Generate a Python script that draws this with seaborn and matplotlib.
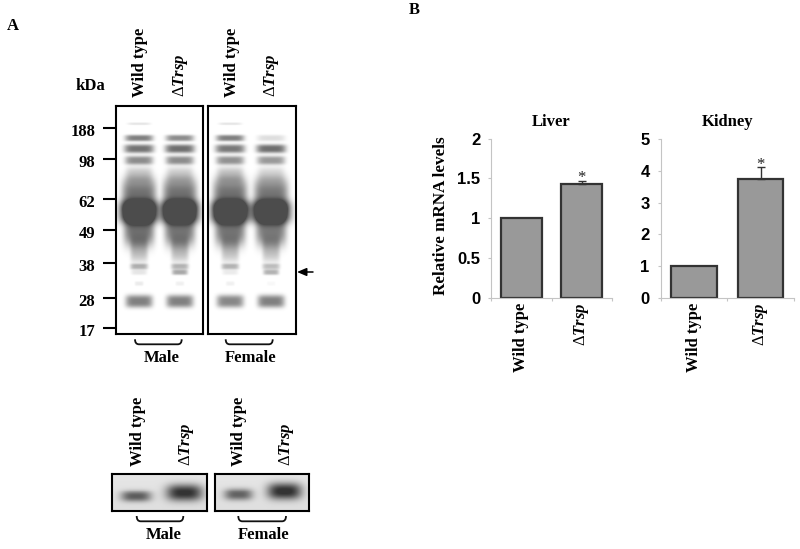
import numpy as np
import pandas as pd
import matplotlib
matplotlib.use("Agg")
import matplotlib.pyplot as plt
from matplotlib.path import Path
from matplotlib.patches import PathPatch
import seaborn as sns

# bar data (panel B)
genotypes = ["Wild type", "Trsp"]
liver_values = [1.0, 1.43]
liver_err = [0.0, 0.04]
kidney_values = [1.0, 3.75]
kidney_err = [0.0, 0.38]
liver_ticks = [0, 0.5, 1, 1.5, 2]
liver_ticklabels = ["0", "0.5", "1", "1.5", "2"]
kidney_ticks = [0, 1, 2, 3, 4, 5]

# gel lanes: migration (0 top, 1 bottom), half width, half height, darkness
band_pos = [0.076, 0.139, 0.186, 0.237, 0.30, 0.395, 0.465, 0.535, 0.63, 0.705, 0.73, 0.78, 0.858]
band_hw = [0.13, 0.16, 0.17, 0.16, 0.15, 0.195, 0.235, 0.175, 0.10, 0.10, 0.09, 0.05, 0.155]
band_hh = [0.006, 0.014, 0.019, 0.019, 0.036, 0.08, 0.05, 0.08, 0.055, 0.013, 0.012, 0.010, 0.028]
male_wt = [0.10, 0.50, 0.55, 0.45, 0.18, 0.56, 0.70, 0.56, 0.25, 0.30, 0.10, 0.08, 0.50]
male_ko = [0.00, 0.45, 0.57, 0.45, 0.16, 0.56, 0.70, 0.54, 0.25, 0.28, 0.34, 0.06, 0.50]
female_wt = [0.10, 0.50, 0.53, 0.43, 0.20, 0.56, 0.70, 0.54, 0.23, 0.28, 0.08, 0.06, 0.47]
female_ko = [0.00, 0.13, 0.57, 0.40, 0.13, 0.54, 0.70, 0.52, 0.23, 0.24, 0.30, 0.03, 0.50]

# western blot bands: lane centre, migration, half width, half height, darkness
blot_male = [(0.25, 0.60, 0.16, 0.15, 0.52), (0.76, 0.50, 0.19, 0.23, 0.70)]
blot_female = [(0.25, 0.55, 0.15, 0.16, 0.50), (0.74, 0.46, 0.18, 0.23, 0.72)]

kda_labels = ["188", "98", "62", "49", "38", "28", "17"]
kda_rows = [128.3, 159.3, 199, 230, 263.3, 297.7, 327.7]

DELTA_TRSP = r"$\mathrm{\Delta}\mathbfit{Trsp}$"

sns.set_theme(style="white")
plt.rcParams["font.family"] = ["Liberation Serif", "DejaVu Sans"]
plt.rcParams["mathtext.fontset"] = "custom"
plt.rcParams["mathtext.rm"] = "Liberation Serif"
plt.rcParams["mathtext.it"] = "Liberation Serif:italic"
plt.rcParams["mathtext.bf"] = "Liberation Serif:bold"
plt.rcParams["mathtext.bfit"] = "Liberation Serif:italic:bold"
plt.rcParams["text.color"] = "black"
plt.rcParams["xtick.color"] = "black"
plt.rcParams["ytick.color"] = "black"

W, H = 800, 549
fig = plt.figure(figsize=(8, 5.49), dpi=100)


def px_axes(x0, y0, x1, y1):
    return fig.add_axes([x0 / W, 1 - y1 / H, (x1 - x0) / W, (y1 - y0) / H])


def gel_image(lanes, lane_x, rows=228, cols=88):
    y, x = np.mgrid[0:1:rows * 1j, 0:1:cols * 1j]
    dark = np.zeros_like(x)
    for cx, lane in zip(lane_x, lanes):
        for m, hw, hh, d in zip(band_pos, band_hw, band_hh, lane):
            dark += d * np.exp(-np.abs((x - cx) / hw) ** 5) * np.exp(-np.abs((y - m) / hh) ** 3)
    return np.clip(dark, 0, 0.70)


def blot_image(bands, rows=37, cols=95):
    y, x = np.mgrid[0:1:rows * 3j, 0:1:cols * 3j]
    dark = 0.10 + 0.03 * y
    for cx, m, hw, hh, d in bands:
        dark = dark + d * np.exp(-np.abs((x - cx) / hw) ** 3.2) * np.exp(-np.abs((y - m) / hh) ** 2.4)
    return np.clip(dark, 0, 0.8)


def draw_image(box, img):
    ax = px_axes(*box)
    sns.heatmap(pd.DataFrame(img), cmap="gray_r", vmin=0, vmax=1, cbar=False,
                xticklabels=False, yticklabels=False, ax=ax, rasterized=True)
    for s in ax.spines.values():
        s.set_visible(True)
        s.set_color("black")
        s.set_linewidth(1.5)
    return ax


draw_image((115.7, 106, 203.3, 334), gel_image([male_wt, male_ko], [0.26, 0.74]))
draw_image((208.3, 106, 296.3, 334), gel_image([female_wt, female_ko], [0.25, 0.72]))
draw_image((112.3, 474.3, 207.3, 511), blot_image(blot_male))
draw_image((214.7, 474.3, 309.3, 511), blot_image(blot_female))


def bar_panel(box, values, err, ymax, ticks, ticklabels, title, star_pad):
    ax = px_axes(*box)
    df = pd.DataFrame({"genotype": genotypes, "value": values})
    sns.barplot(data=df, x="genotype", y="value", color="#999999", saturation=1,
                width=0.68, edgecolor="#333333", linewidth=1.6, errorbar=None, ax=ax)
    ax.errorbar([1], [values[1]], yerr=[[0], [err[1]]], color="#333333",
                elinewidth=1, capsize=3, capthick=1)
    ax.annotate("*", xy=(1, values[1] + err[1]), xytext=(0, star_pad), textcoords="offset points",
                ha="center", va="center", fontsize=12, color="#222222")
    ax.set_xlim(-0.5, 1.5)
    ax.set_ylim(0, ymax)
    ax.set_xlabel("")
    ax.set_ylabel("")
    ax.set_xticks([0, 1])
    ax.set_xticklabels(["Wild type", DELTA_TRSP], rotation=90, fontsize=12, fontweight="bold")
    ax.set_xticks([-0.5, 0.5, 1.5], minor=True)
    ax.tick_params(axis="x", which="major", length=0, pad=3.5)
    ax.tick_params(axis="x", which="minor", length=2.4, width=0.8, color="#c4c4c4", bottom=True)
    ax.set_yticks(ticks)
    ax.set_yticklabels(ticklabels, family="Liberation Sans", fontweight="bold", fontsize=12)
    ax.tick_params(axis="y", length=2.4, width=0.8, color="#c4c4c4", pad=5.5, left=True)
    sns.despine(ax=ax)
    for s in ("left", "bottom"):
        ax.spines[s].set_color("#c4c4c4")
        ax.spines[s].set_linewidth(0.8)
    ax.patch.set_alpha(0)
    ax.set_title(title, fontsize=12, fontweight="bold", pad=9.5)
    return ax


bar_panel((491.3, 138.7, 611.7, 297.7), liver_values, liver_err, 2, liver_ticks,
          liver_ticklabels, "Liver", 2)
bar_panel((660.7, 139.3, 794, 297.7), kidney_values, kidney_err, 5, kidney_ticks,
          [str(t) for t in kidney_ticks], "Kidney", 1.5)

# overlay in pixel coordinates for labels, brackets, markers
ov = fig.add_axes([0, 0, 1, 1], zorder=5)
ov.set_xlim(0, W)
ov.set_ylim(H, 0)
ov.axis("off")


def label(x, y, s, **kw):
    kw.setdefault("fontsize", 12)
    kw.setdefault("fontweight", "bold")
    ov.text(x, y, s, **kw)


def vlabel(x, y, s):
    label(x, y, s, rotation=90, ha="center", va="bottom")


def bracket(x0, x1, y0, y1):
    verts = [(x0, y0), (x0, y1), (x0 + 4, y1), (x1 - 4, y1), (x1, y1), (x1, y0)]
    codes = [Path.MOVETO, Path.CURVE3, Path.CURVE3, Path.LINETO, Path.CURVE3, Path.CURVE3]
    ov.add_patch(PathPatch(Path(verts, codes), fc="none", ec="#111111", lw=1.3))


label(13, 26, "A", ha="center", va="center")
label(414, 10, "B", ha="center", va="center")
label(90.7, 85.7, "kDa", ha="center", va="center")
for x, s in [(140.3, "Wild type"), (181, DELTA_TRSP), (231.7, "Wild type"), (271.7, DELTA_TRSP)]:
    vlabel(x, 97.3, s)
for x, s in [(137.7, "Wild type"), (186, DELTA_TRSP), (239.3, "Wild type"), (286.7, DELTA_TRSP)]:
    vlabel(x, 466, s)

for s, y in zip(kda_labels, kda_rows):
    ov.plot([102.7, 115.7], [y, y], color="black", lw=1.5, solid_capstyle="butt")
    label(95, y + 4, s, ha="right", va="center")

ov.annotate("", xy=(297, 272), xytext=(313, 272),
            arrowprops=dict(arrowstyle="-|>,head_width=0.17,head_length=0.4", color="black", lw=1.1,
                            shrinkA=0, shrinkB=0, mutation_scale=14))

bracket(135, 181.7, 339.3, 344.3)
bracket(225.7, 272.7, 339.3, 344.3)
label(161.7, 358, "Male", ha="center", va="center")
label(250.7, 358, "Female", ha="center", va="center")
bracket(136.7, 183.3, 516, 521.3)
bracket(238.3, 286, 516, 521.3)
label(164, 535, "Male", ha="center", va="center")
label(263.3, 535, "Female", ha="center", va="center")
label(441, 216, "Relative mRNA levels", rotation=90, ha="center", va="center", fontsize=12.3)

fig.savefig("out.png", dpi=100)
